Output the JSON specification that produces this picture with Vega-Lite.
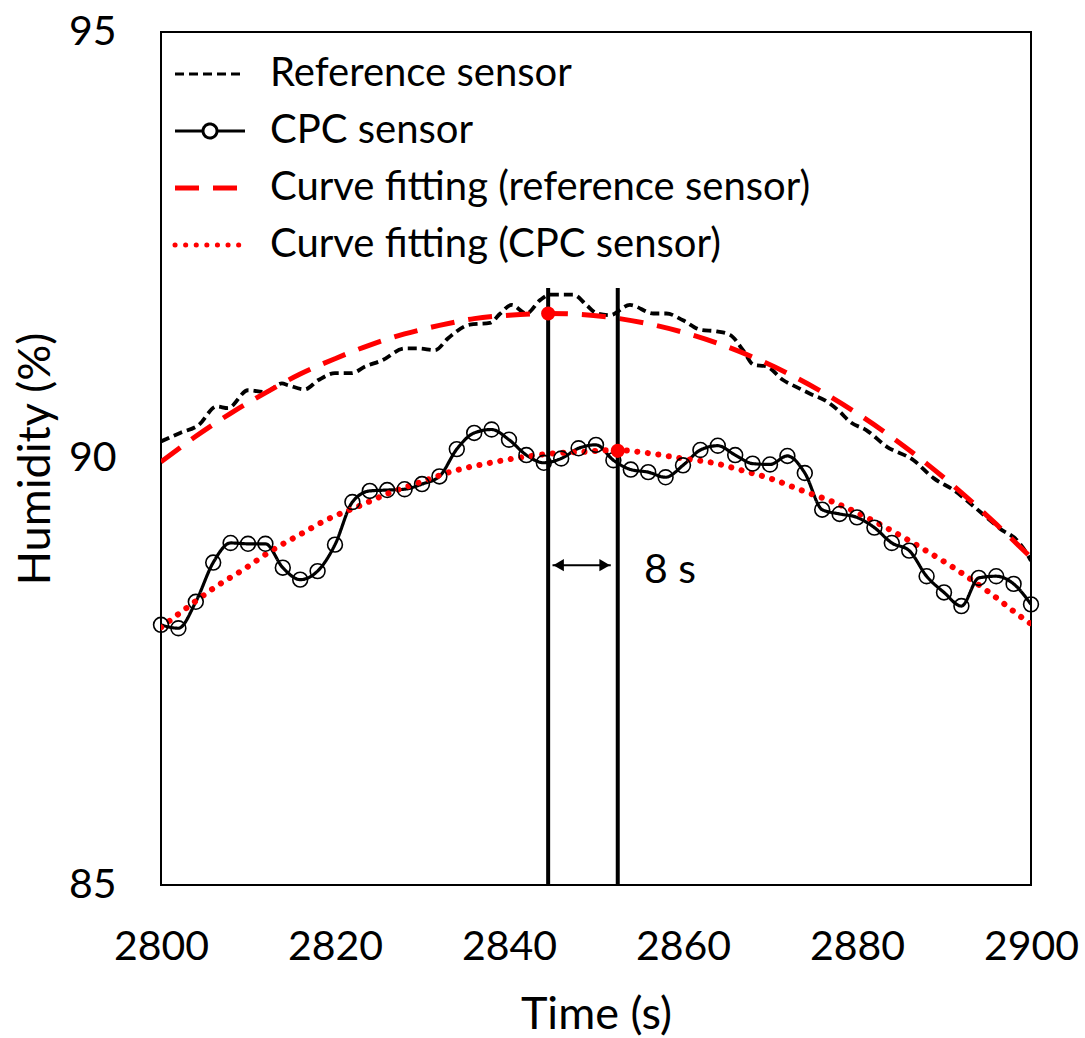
{
  "$schema": "https://vega.github.io/schema/vega-lite/v6.json",
  "autosize": {"type": "none"},
  "width": 870,
  "height": 853,
  "padding": {"left": 161, "top": 32, "right": 54, "bottom": 153},
  "background": "white",
  "config": {
    "view": {"stroke": "black", "strokeWidth": 2},
    "font": "Lato",
    "axis": {"domain": false, "ticks": false, "grid": false, "labelFlush": false, "labelOverlap": false, "labelFont": "Lato", "titleFont": "Lato", "labelColor": "black", "titleColor": "black", "titleFontWeight": "normal"},
    "legend": {"orient": "none", "legendX": 29, "legendY": 22, "padding": 0, "labelFont": "Lato", "labelFontSize": 40, "labelColor": "black", "symbolSize": 4900, "labelOffset": 40, "rowPadding": 17, "labelLimit": 0, "symbolType": "stroke"}
  },
  "datasets": {
    "lines": [
      {"t": 2800, "h": 90.20, "series": "Reference sensor"},
      {"t": 2802.2, "h": 90.30, "series": "Reference sensor"},
      {"t": 2804.3, "h": 90.39, "series": "Reference sensor"},
      {"t": 2806.4, "h": 90.61, "series": "Reference sensor"},
      {"t": 2807.7, "h": 90.59, "series": "Reference sensor"},
      {"t": 2810, "h": 90.80, "series": "Reference sensor"},
      {"t": 2812, "h": 90.78, "series": "Reference sensor"},
      {"t": 2813.9, "h": 90.88, "series": "Reference sensor"},
      {"t": 2814.6, "h": 90.86, "series": "Reference sensor"},
      {"t": 2816.5, "h": 90.81, "series": "Reference sensor"},
      {"t": 2818.1, "h": 90.92, "series": "Reference sensor"},
      {"t": 2820, "h": 91.00, "series": "Reference sensor"},
      {"t": 2821.9, "h": 91.00, "series": "Reference sensor"},
      {"t": 2823.5, "h": 91.08, "series": "Reference sensor"},
      {"t": 2825.4, "h": 91.15, "series": "Reference sensor"},
      {"t": 2828, "h": 91.29, "series": "Reference sensor"},
      {"t": 2829.6, "h": 91.29, "series": "Reference sensor"},
      {"t": 2831.5, "h": 91.27, "series": "Reference sensor"},
      {"t": 2833, "h": 91.41, "series": "Reference sensor"},
      {"t": 2835.5, "h": 91.57, "series": "Reference sensor"},
      {"t": 2837.8, "h": 91.59, "series": "Reference sensor"},
      {"t": 2839, "h": 91.70, "series": "Reference sensor"},
      {"t": 2840.3, "h": 91.80, "series": "Reference sensor"},
      {"t": 2842, "h": 91.70, "series": "Reference sensor"},
      {"t": 2843.6, "h": 91.86, "series": "Reference sensor"},
      {"t": 2844.7, "h": 91.92, "series": "Reference sensor"},
      {"t": 2847.4, "h": 91.92, "series": "Reference sensor"},
      {"t": 2848.9, "h": 91.80, "series": "Reference sensor"},
      {"t": 2850.1, "h": 91.70, "series": "Reference sensor"},
      {"t": 2851.6, "h": 91.68, "series": "Reference sensor"},
      {"t": 2853.9, "h": 91.80, "series": "Reference sensor"},
      {"t": 2856.6, "h": 91.70, "series": "Reference sensor"},
      {"t": 2858.1, "h": 91.70, "series": "Reference sensor"},
      {"t": 2860, "h": 91.62, "series": "Reference sensor"},
      {"t": 2862, "h": 91.51, "series": "Reference sensor"},
      {"t": 2863.9, "h": 91.49, "series": "Reference sensor"},
      {"t": 2865.4, "h": 91.45, "series": "Reference sensor"},
      {"t": 2866.9, "h": 91.27, "series": "Reference sensor"},
      {"t": 2868.1, "h": 91.10, "series": "Reference sensor"},
      {"t": 2869.6, "h": 91.08, "series": "Reference sensor"},
      {"t": 2871.5, "h": 90.92, "series": "Reference sensor"},
      {"t": 2873, "h": 90.84, "series": "Reference sensor"},
      {"t": 2874.6, "h": 90.76, "series": "Reference sensor"},
      {"t": 2876.5, "h": 90.67, "series": "Reference sensor"},
      {"t": 2878, "h": 90.55, "series": "Reference sensor"},
      {"t": 2879.2, "h": 90.43, "series": "Reference sensor"},
      {"t": 2881.1, "h": 90.33, "series": "Reference sensor"},
      {"t": 2883.4, "h": 90.14, "series": "Reference sensor"},
      {"t": 2886.5, "h": 89.98, "series": "Reference sensor"},
      {"t": 2888.8, "h": 89.77, "series": "Reference sensor"},
      {"t": 2891.1, "h": 89.63, "series": "Reference sensor"},
      {"t": 2893.4, "h": 89.44, "series": "Reference sensor"},
      {"t": 2895.7, "h": 89.24, "series": "Reference sensor"},
      {"t": 2896.4, "h": 89.18, "series": "Reference sensor"},
      {"t": 2898.4, "h": 89.04, "series": "Reference sensor"},
      {"t": 2899.5, "h": 88.89, "series": "Reference sensor"},
      {"t": 2900, "h": 88.80, "series": "Reference sensor"},

      {"t": 2800, "h": 88.05, "series": "CPC sensor"},
      {"t": 2802, "h": 88.01, "series": "CPC sensor"},
      {"t": 2804, "h": 88.32, "series": "CPC sensor"},
      {"t": 2806, "h": 88.78, "series": "CPC sensor"},
      {"t": 2808, "h": 89.01, "series": "CPC sensor"},
      {"t": 2810, "h": 89.00, "series": "CPC sensor"},
      {"t": 2812, "h": 89.00, "series": "CPC sensor"},
      {"t": 2814, "h": 88.72, "series": "CPC sensor"},
      {"t": 2816, "h": 88.58, "series": "CPC sensor"},
      {"t": 2818, "h": 88.68, "series": "CPC sensor"},
      {"t": 2820, "h": 88.99, "series": "CPC sensor"},
      {"t": 2822, "h": 89.49, "series": "CPC sensor"},
      {"t": 2824, "h": 89.62, "series": "CPC sensor"},
      {"t": 2826, "h": 89.63, "series": "CPC sensor"},
      {"t": 2828, "h": 89.64, "series": "CPC sensor"},
      {"t": 2830, "h": 89.70, "series": "CPC sensor"},
      {"t": 2832, "h": 89.79, "series": "CPC sensor"},
      {"t": 2834, "h": 90.11, "series": "CPC sensor"},
      {"t": 2836, "h": 90.30, "series": "CPC sensor"},
      {"t": 2838, "h": 90.34, "series": "CPC sensor"},
      {"t": 2840, "h": 90.22, "series": "CPC sensor"},
      {"t": 2842, "h": 90.04, "series": "CPC sensor"},
      {"t": 2844, "h": 89.95, "series": "CPC sensor"},
      {"t": 2846, "h": 90.00, "series": "CPC sensor"},
      {"t": 2848, "h": 90.12, "series": "CPC sensor"},
      {"t": 2850, "h": 90.16, "series": "CPC sensor"},
      {"t": 2852, "h": 89.98, "series": "CPC sensor"},
      {"t": 2854, "h": 89.87, "series": "CPC sensor"},
      {"t": 2856, "h": 89.84, "series": "CPC sensor"},
      {"t": 2858, "h": 89.78, "series": "CPC sensor"},
      {"t": 2860, "h": 89.92, "series": "CPC sensor"},
      {"t": 2862, "h": 90.10, "series": "CPC sensor"},
      {"t": 2864, "h": 90.15, "series": "CPC sensor"},
      {"t": 2866, "h": 90.04, "series": "CPC sensor"},
      {"t": 2868, "h": 89.94, "series": "CPC sensor"},
      {"t": 2870, "h": 89.93, "series": "CPC sensor"},
      {"t": 2872, "h": 90.03, "series": "CPC sensor"},
      {"t": 2874, "h": 89.83, "series": "CPC sensor"},
      {"t": 2876, "h": 89.40, "series": "CPC sensor"},
      {"t": 2878, "h": 89.35, "series": "CPC sensor"},
      {"t": 2880, "h": 89.31, "series": "CPC sensor"},
      {"t": 2882, "h": 89.19, "series": "CPC sensor"},
      {"t": 2884, "h": 89.01, "series": "CPC sensor"},
      {"t": 2886, "h": 88.92, "series": "CPC sensor"},
      {"t": 2888, "h": 88.62, "series": "CPC sensor"},
      {"t": 2890, "h": 88.43, "series": "CPC sensor"},
      {"t": 2892, "h": 88.27, "series": "CPC sensor"},
      {"t": 2894, "h": 88.60, "series": "CPC sensor"},
      {"t": 2896, "h": 88.62, "series": "CPC sensor"},
      {"t": 2898, "h": 88.53, "series": "CPC sensor"},
      {"t": 2900, "h": 88.29, "series": "CPC sensor"},

      {"t": 2800, "h": 89.96, "series": "Curve fitting (reference sensor)"},
      {"t": 2804, "h": 90.26, "series": "Curve fitting (reference sensor)"},
      {"t": 2808, "h": 90.53, "series": "Curve fitting (reference sensor)"},
      {"t": 2812, "h": 90.77, "series": "Curve fitting (reference sensor)"},
      {"t": 2816, "h": 90.99, "series": "Curve fitting (reference sensor)"},
      {"t": 2820, "h": 91.17, "series": "Curve fitting (reference sensor)"},
      {"t": 2824, "h": 91.33, "series": "Curve fitting (reference sensor)"},
      {"t": 2828, "h": 91.46, "series": "Curve fitting (reference sensor)"},
      {"t": 2832, "h": 91.56, "series": "Curve fitting (reference sensor)"},
      {"t": 2836, "h": 91.64, "series": "Curve fitting (reference sensor)"},
      {"t": 2840, "h": 91.68, "series": "Curve fitting (reference sensor)"},
      {"t": 2844.5, "h": 91.70, "series": "Curve fitting (reference sensor)"},
      {"t": 2848, "h": 91.69, "series": "Curve fitting (reference sensor)"},
      {"t": 2852, "h": 91.65, "series": "Curve fitting (reference sensor)"},
      {"t": 2856, "h": 91.58, "series": "Curve fitting (reference sensor)"},
      {"t": 2860, "h": 91.48, "series": "Curve fitting (reference sensor)"},
      {"t": 2864, "h": 91.35, "series": "Curve fitting (reference sensor)"},
      {"t": 2868, "h": 91.19, "series": "Curve fitting (reference sensor)"},
      {"t": 2872, "h": 91.00, "series": "Curve fitting (reference sensor)"},
      {"t": 2876, "h": 90.78, "series": "Curve fitting (reference sensor)"},
      {"t": 2880, "h": 90.53, "series": "Curve fitting (reference sensor)"},
      {"t": 2884, "h": 90.25, "series": "Curve fitting (reference sensor)"},
      {"t": 2888, "h": 89.94, "series": "Curve fitting (reference sensor)"},
      {"t": 2892, "h": 89.60, "series": "Curve fitting (reference sensor)"},
      {"t": 2896, "h": 89.23, "series": "Curve fitting (reference sensor)"},
      {"t": 2900, "h": 88.84, "series": "Curve fitting (reference sensor)"},

      {"t": 2800, "h": 88.02, "series": "Curve fitting (CPC sensor)"},
      {"t": 2803.1, "h": 88.26, "series": "Curve fitting (CPC sensor)"},
      {"t": 2806.2, "h": 88.49, "series": "Curve fitting (CPC sensor)"},
      {"t": 2809.5, "h": 88.70, "series": "Curve fitting (CPC sensor)"},
      {"t": 2812.7, "h": 88.92, "series": "Curve fitting (CPC sensor)"},
      {"t": 2816, "h": 89.11, "series": "Curve fitting (CPC sensor)"},
      {"t": 2819.2, "h": 89.29, "series": "Curve fitting (CPC sensor)"},
      {"t": 2822.7, "h": 89.44, "series": "Curve fitting (CPC sensor)"},
      {"t": 2826.1, "h": 89.59, "series": "Curve fitting (CPC sensor)"},
      {"t": 2830, "h": 89.73, "series": "Curve fitting (CPC sensor)"},
      {"t": 2833.5, "h": 89.85, "series": "Curve fitting (CPC sensor)"},
      {"t": 2837.4, "h": 89.94, "series": "Curve fitting (CPC sensor)"},
      {"t": 2841.2, "h": 90.01, "series": "Curve fitting (CPC sensor)"},
      {"t": 2845.1, "h": 90.06, "series": "Curve fitting (CPC sensor)"},
      {"t": 2848.9, "h": 90.08, "series": "Curve fitting (CPC sensor)"},
      {"t": 2852.3, "h": 90.10, "series": "Curve fitting (CPC sensor)"},
      {"t": 2856.2, "h": 90.06, "series": "Curve fitting (CPC sensor)"},
      {"t": 2860, "h": 90.00, "series": "Curve fitting (CPC sensor)"},
      {"t": 2863.9, "h": 89.94, "series": "Curve fitting (CPC sensor)"},
      {"t": 2866.8, "h": 89.86, "series": "Curve fitting (CPC sensor)"},
      {"t": 2870.2, "h": 89.76, "series": "Curve fitting (CPC sensor)"},
      {"t": 2873.8, "h": 89.62, "series": "Curve fitting (CPC sensor)"},
      {"t": 2877.5, "h": 89.48, "series": "Curve fitting (CPC sensor)"},
      {"t": 2880.9, "h": 89.32, "series": "Curve fitting (CPC sensor)"},
      {"t": 2884.4, "h": 89.13, "series": "Curve fitting (CPC sensor)"},
      {"t": 2887.6, "h": 88.94, "series": "Curve fitting (CPC sensor)"},
      {"t": 2891.1, "h": 88.72, "series": "Curve fitting (CPC sensor)"},
      {"t": 2895.2, "h": 88.43, "series": "Curve fitting (CPC sensor)"},
      {"t": 2899.3, "h": 88.11, "series": "Curve fitting (CPC sensor)"},
      {"t": 2900, "h": 88.06, "series": "Curve fitting (CPC sensor)"}
    ],
    "vlines": [{"t": 2844.5, "lo": 85, "hi": 92.0}, {"t": 2852.5, "lo": 85, "hi": 92.0}],
    "peaks": [{"t": 2844.5, "h": 91.70}, {"t": 2852.5, "h": 90.09}],
    "arrow": [{"t1": 2845.0, "t2": 2851.7, "h": 88.75}],
    "heads": [{"t": 2845.7, "h": 88.75, "dir": "left"}, {"t": 2851.0, "h": 88.75, "dir": "right"}],
    "label": [{"t": 2858.5, "h": 88.68, "text": "8 s"}]
  },
  "layer": [
    {
      "data": {"name": "lines"},
      "transform": [{"filter": "datum.series === 'Reference sensor'"}],
      "mark": {"type": "line", "strokeWidth": 3.8, "interpolate": "monotone", "clip": true},
      "encoding": {
        "x": {"field": "t", "type": "quantitative", "scale": {"domain": [2800, 2900], "nice": false, "zero": false},
              "axis": {"values": [2800, 2820, 2840, 2860, 2880, 2900], "format": "d", "labelFontSize": 41, "labelPadding": 42, "title": "Time (s)", "titleFontSize": 45, "titleY": 143, "titleBaseline": "alphabetic"}},
        "y": {"field": "h", "type": "quantitative", "scale": {"domain": [85, 95], "nice": false, "zero": false},
              "axis": {"values": [85, 90, 95], "format": "d", "labelFontSize": 41, "labelPadding": 45, "title": "Humidity (%)", "titleFontSize": 45, "titleX": -112, "titleBaseline": "alphabetic"}},
        "color": {"field": "series", "type": "nominal",
                  "scale": {"domain": ["Reference sensor", "CPC sensor", "Curve fitting (reference sensor)", "Curve fitting (CPC sensor)"], "range": ["#000000", "#000000", "#ff0000", "#ff0000"]},
                  "legend": {"title": null, "encode": {"symbols": {"update": {
                    "shape": {"signal": "datum.value === 'CPC sensor' ? 'M-1,0H-0.2A0.2,0.2 0 1,1 0.2,0A0.2,0.2 0 1,1 -0.2,0M0.2,0H1' : 'stroke'"},
                    "strokeWidth": {"signal": "indexof(['Curve fitting (reference sensor)','Curve fitting (CPC sensor)'], datum.value) >= 0 ? 5 : 3"},
                    "strokeCap": {"signal": "datum.value === 'Curve fitting (CPC sensor)' ? 'round' : 'butt'"},
                    "fill": {"value": "transparent"}
                  }}}}},
        "strokeDash": {"field": "series", "type": "nominal",
                  "scale": {"domain": ["Reference sensor", "CPC sensor", "Curve fitting (reference sensor)", "Curve fitting (CPC sensor)"], "range": [[9, 5], [1, 0], [24, 14], [0.1, 10.5]]},
                  "legend": {"title": null}}
      }
    },
    {
      "data": {"name": "lines"},
      "transform": [{"filter": "datum.series === 'CPC sensor'"}],
      "mark": {"type": "line", "strokeWidth": 3.2, "interpolate": "monotone", "clip": true},
      "encoding": {
        "x": {"field": "t", "type": "quantitative"},
        "y": {"field": "h", "type": "quantitative"},
        "color": {"field": "series", "type": "nominal"},
        "strokeDash": {"field": "series", "type": "nominal"}
      }
    },
    {
      "data": {"name": "lines"},
      "transform": [{"filter": "datum.series === 'Curve fitting (reference sensor)'"}],
      "mark": {"type": "line", "strokeWidth": 5, "interpolate": "monotone", "clip": true},
      "encoding": {
        "x": {"field": "t", "type": "quantitative"},
        "y": {"field": "h", "type": "quantitative"},
        "color": {"field": "series", "type": "nominal"},
        "strokeDash": {"field": "series", "type": "nominal"}
      }
    },
    {
      "data": {"name": "lines"},
      "transform": [{"filter": "datum.series === 'Curve fitting (CPC sensor)'"}],
      "mark": {"type": "line", "strokeWidth": 6, "strokeCap": "round", "interpolate": "monotone", "clip": true},
      "encoding": {
        "x": {"field": "t", "type": "quantitative"},
        "y": {"field": "h", "type": "quantitative"},
        "color": {"field": "series", "type": "nominal"},
        "strokeDash": {"field": "series", "type": "nominal"}
      }
    },
    {
      "data": {"name": "lines"},
      "transform": [{"filter": "datum.series === 'CPC sensor'"}],
      "mark": {"type": "point", "shape": "circle", "filled": false, "stroke": "black", "strokeWidth": 1.6, "size": 220, "opacity": 1},
      "encoding": {
        "x": {"field": "t", "type": "quantitative"},
        "y": {"field": "h", "type": "quantitative"}
      }
    },
    {
      "data": {"name": "vlines"},
      "mark": {"type": "rule", "stroke": "black", "strokeWidth": 4},
      "encoding": {
        "x": {"field": "t", "type": "quantitative"},
        "y": {"field": "lo", "type": "quantitative"},
        "y2": {"field": "hi"}
      }
    },
    {
      "data": {"name": "peaks"},
      "mark": {"type": "point", "shape": "circle", "filled": true, "fill": "#ff0000", "stroke": null, "size": 200, "opacity": 1},
      "encoding": {
        "x": {"field": "t", "type": "quantitative"},
        "y": {"field": "h", "type": "quantitative"}
      }
    },
    {
      "data": {"name": "arrow"},
      "mark": {"type": "rule", "stroke": "black", "strokeWidth": 2},
      "encoding": {
        "x": {"field": "t1", "type": "quantitative"},
        "x2": {"field": "t2"},
        "y": {"field": "h", "type": "quantitative"}
      }
    },
    {
      "data": {"name": "heads"},
      "mark": {"type": "point", "filled": true, "fill": "black", "stroke": null, "size": 150, "opacity": 1},
      "encoding": {
        "x": {"field": "t", "type": "quantitative"},
        "y": {"field": "h", "type": "quantitative"},
        "shape": {"field": "dir", "type": "nominal", "scale": {"domain": ["left", "right"], "range": ["triangle-left", "triangle-right"]}, "legend": null}
      }
    },
    {
      "data": {"name": "label"},
      "mark": {"type": "text", "font": "Lato", "fontSize": 41, "align": "center", "baseline": "middle", "color": "black"},
      "encoding": {
        "x": {"field": "t", "type": "quantitative"},
        "y": {"field": "h", "type": "quantitative"},
        "text": {"field": "text", "type": "nominal"}
      }
    }
  ]
}
